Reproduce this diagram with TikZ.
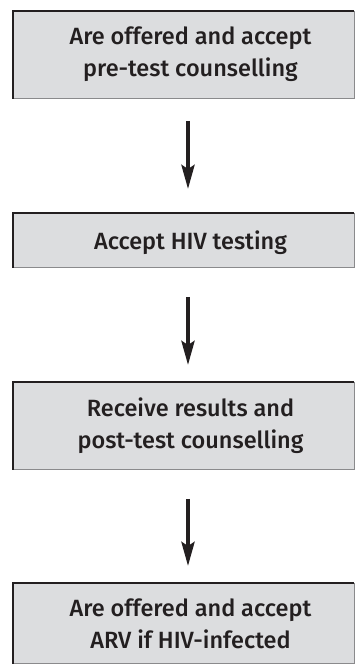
\documentclass[tikz,border=0pt]{standalone}
\usepackage{fontspec}
\setmainfont{Fira Sans}[UprightFont=* Medium]
\usetikzlibrary{arrows.meta}
\definecolor{boxfill}{HTML}{DCDDDF}
\definecolor{darkline}{HTML}{231F20}
\definecolor{lightline}{HTML}{8A8A8C}
\tikzset{
  box/.style={draw=none, fill=boxfill, minimum width=341pt, inner sep=0pt, outer sep=0pt},
  boxtext/.style={align=center, font=\fontsize{23.5}{32}\selectfont, text=darkline, inner sep=0pt},
  topleft/.style={draw=darkline, line width=2.4pt},
  botright/.style={draw=lightline, line width=1pt},
  arr/.style={draw=darkline, line width=4pt, -{Stealth[length=24pt, width=13pt, inset=4pt]}}
}
\begin{document}
\begin{tikzpicture}[x=1pt,y=1pt]
\useasboundingbox (0,0) rectangle (355,664);
% boxes
\node[box, minimum height=88pt] (b1) at (183.5,609) {};
\node[box, minimum height=55pt] (b2) at (183.5,423.5) {};
\node[box, minimum height=88pt] (b3) at (183.5,238) {};
\node[box, minimum height=81pt] (b4) at (183.5,40.5) {};
\foreach \b in {b1,b2,b3,b4}{
  \draw[botright] (\b.north east) -- (\b.south east) -- (\b.south west);
  \draw[topleft] (\b.south west) -- (\b.north west) -- (\b.north east);
}
% texts
\node[boxtext] (t1) at ([xshift=7pt,yshift=1pt]b1.center) {Are offered and accept\\pre-test counselling};
\node[boxtext] (t2) at ([xshift=7pt,yshift=-2pt]b2.center) {Accept HIV testing};
\node[boxtext] (t3) at ([xshift=7pt,yshift=0pt]b3.center) {Receive results and\\post-test counselling};
\node[boxtext] (t4) at ([xshift=7pt,yshift=0pt]b4.center) {Are offered and accept\\ARV if HIV-infected};
% arrows
\draw[arr] ([xshift=4.5pt,yshift=-22pt]b1.south) -- ([xshift=4.5pt,yshift=24pt]b2.north);
\draw[arr] ([xshift=4.5pt,yshift=-29pt]b2.south) -- ([xshift=4.5pt,yshift=17pt]b3.north);
\draw[arr] ([xshift=4.5pt,yshift=-29pt]b3.south) -- ([xshift=4.5pt,yshift=17pt]b4.north);
\end{tikzpicture}
\end{document}
